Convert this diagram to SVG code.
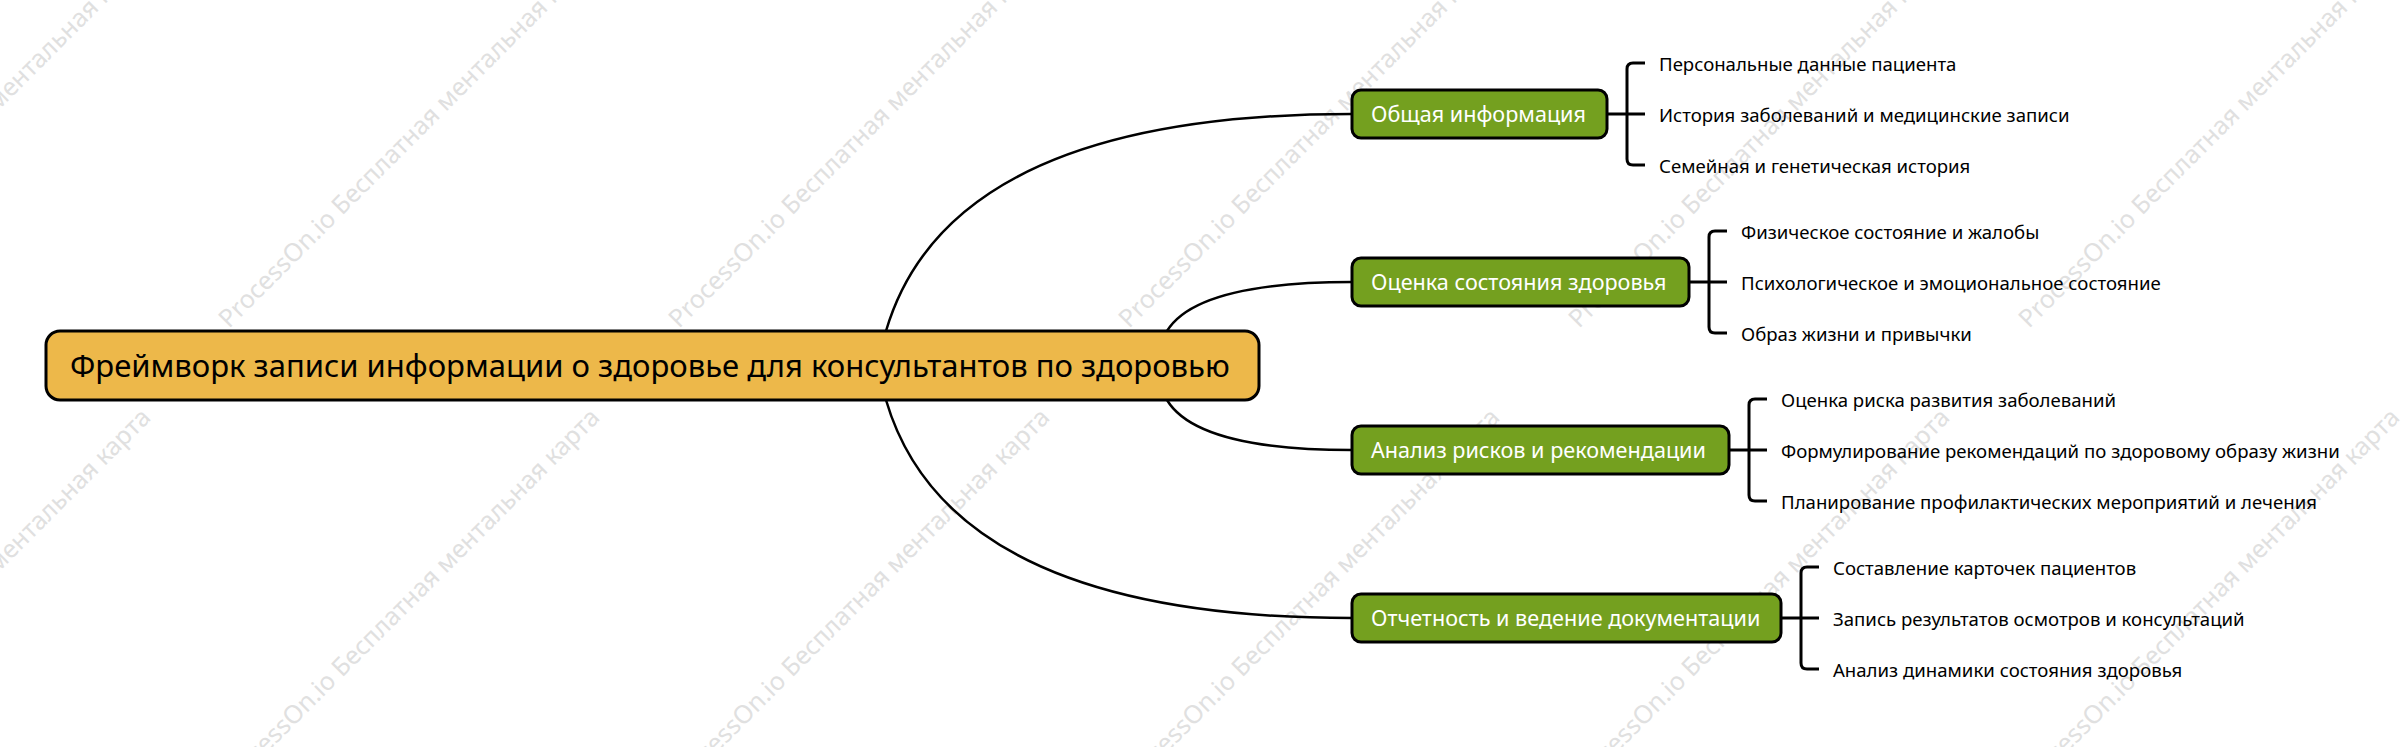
<svg xmlns="http://www.w3.org/2000/svg" width="2404" height="747" viewBox="0 0 2404 747">
<style>
.wm{font-family:"Noto Sans","Open Sans",sans-serif;font-size:25px;fill:#e0e0e0}
.root rect{fill:#EDB84A;stroke:#000;stroke-width:3}
.root text{font-family:"Noto Sans","Open Sans",sans-serif;font-size:31px;fill:#000}
.topic rect{fill:#74A01F;stroke:#000;stroke-width:3}
.topic text{font-family:"Noto Sans","Open Sans",sans-serif;font-size:21.6px;fill:#fff}
.leaf{font-family:"Noto Sans","Open Sans",sans-serif;font-size:18.6px;fill:#000}
.conn path{fill:none;stroke:#000;stroke-width:2.5}
.br path{fill:none;stroke:#000;stroke-width:3}
</style>
<rect width="2404" height="747" fill="#fff"/>
<g id="watermark">
<text class="wm" transform="translate(-220,329) rotate(-45)">ProcessOn.io Бесплатная ментальная карта</text>
<text class="wm" transform="translate(229,329) rotate(-45)">ProcessOn.io Бесплатная ментальная карта</text>
<text class="wm" transform="translate(679,329) rotate(-45)">ProcessOn.io Бесплатная ментальная карта</text>
<text class="wm" transform="translate(1129,329) rotate(-45)">ProcessOn.io Бесплатная ментальная карта</text>
<text class="wm" transform="translate(1579,329) rotate(-45)">ProcessOn.io Бесплатная ментальная карта</text>
<text class="wm" transform="translate(2029,329) rotate(-45)">ProcessOn.io Бесплатная ментальная карта</text>
<text class="wm" transform="translate(-220,791) rotate(-45)">ProcessOn.io Бесплатная ментальная карта</text>
<text class="wm" transform="translate(229,791) rotate(-45)">ProcessOn.io Бесплатная ментальная карта</text>
<text class="wm" transform="translate(679,791) rotate(-45)">ProcessOn.io Бесплатная ментальная карта</text>
<text class="wm" transform="translate(1129,791) rotate(-45)">ProcessOn.io Бесплатная ментальная карта</text>
<text class="wm" transform="translate(1579,791) rotate(-45)">ProcessOn.io Бесплатная ментальная карта</text>
<text class="wm" transform="translate(2029,791) rotate(-45)">ProcessOn.io Бесплатная ментальная карта</text>
</g>
<g id="connectors">
<g class="conn">
<path d="M886,331 Q950,114 1352,114"/>
<path d="M1167,331 Q1197,282 1352,282"/>
<path d="M1167,400 Q1197,450 1352,450"/>
<path d="M886,400 Q950,618 1352,618"/>
</g>
<g class="br">
<path d="M1607,114 H1645 M1645,63 H1633 Q1627,63 1627,69 V159 Q1627,165 1633,165 H1645"/>
<path d="M1689,282 H1727 M1727,231 H1715 Q1709,231 1709,237 V327 Q1709,333 1715,333 H1727"/>
<path d="M1729,450 H1767 M1767,399 H1755 Q1749,399 1749,405 V495 Q1749,501 1755,501 H1767"/>
<path d="M1781,618 H1819 M1819,567 H1807 Q1801,567 1801,573 V663 Q1801,669 1807,669 H1819"/>
</g>
</g>
<g id="root" class="root">
<rect x="46" y="331" width="1213" height="69" rx="14"/>
<text x="70" y="376.5">Фреймворк записи информации о здоровье для консультантов по здоровью</text>
</g>
<g id="topic1" class="topic">
<rect x="1352" y="90" width="255" height="48" rx="9"/>
<text x="1371" y="121.5">Общая информация</text>
</g>
<g id="topic2" class="topic">
<rect x="1352" y="258" width="337" height="48" rx="9"/>
<text x="1371" y="289.5">Оценка состояния здоровья</text>
</g>
<g id="topic3" class="topic">
<rect x="1352" y="426" width="377" height="48" rx="9"/>
<text x="1371" y="457.5">Анализ рисков и рекомендации</text>
</g>
<g id="topic4" class="topic">
<rect x="1352" y="594" width="429" height="48" rx="9"/>
<text x="1371" y="625.5">Отчетность и ведение документации</text>
</g>
<g id="leaf1-1"><text class="leaf" x="1659" y="70.5">Персональные данные пациента</text></g>
<g id="leaf1-2"><text class="leaf" x="1659" y="121.5">История заболеваний и медицинские записи</text></g>
<g id="leaf1-3"><text class="leaf" x="1659" y="172.5">Семейная и генетическая история</text></g>
<g id="leaf2-1"><text class="leaf" x="1741" y="238.5">Физическое состояние и жалобы</text></g>
<g id="leaf2-2"><text class="leaf" x="1741" y="289.5">Психологическое и эмоциональное состояние</text></g>
<g id="leaf2-3"><text class="leaf" x="1741" y="340.5">Образ жизни и привычки</text></g>
<g id="leaf3-1"><text class="leaf" x="1781" y="406.5">Оценка риска развития заболеваний</text></g>
<g id="leaf3-2"><text class="leaf" x="1781" y="457.5">Формулирование рекомендаций по здоровому образу жизни</text></g>
<g id="leaf3-3"><text class="leaf" x="1781" y="508.5">Планирование профилактических мероприятий и лечения</text></g>
<g id="leaf4-1"><text class="leaf" x="1833" y="574.5">Составление карточек пациентов</text></g>
<g id="leaf4-2"><text class="leaf" x="1833" y="625.5">Запись результатов осмотров и консультаций</text></g>
<g id="leaf4-3"><text class="leaf" x="1833" y="676.5">Анализ динамики состояния здоровья</text></g>
</svg>
